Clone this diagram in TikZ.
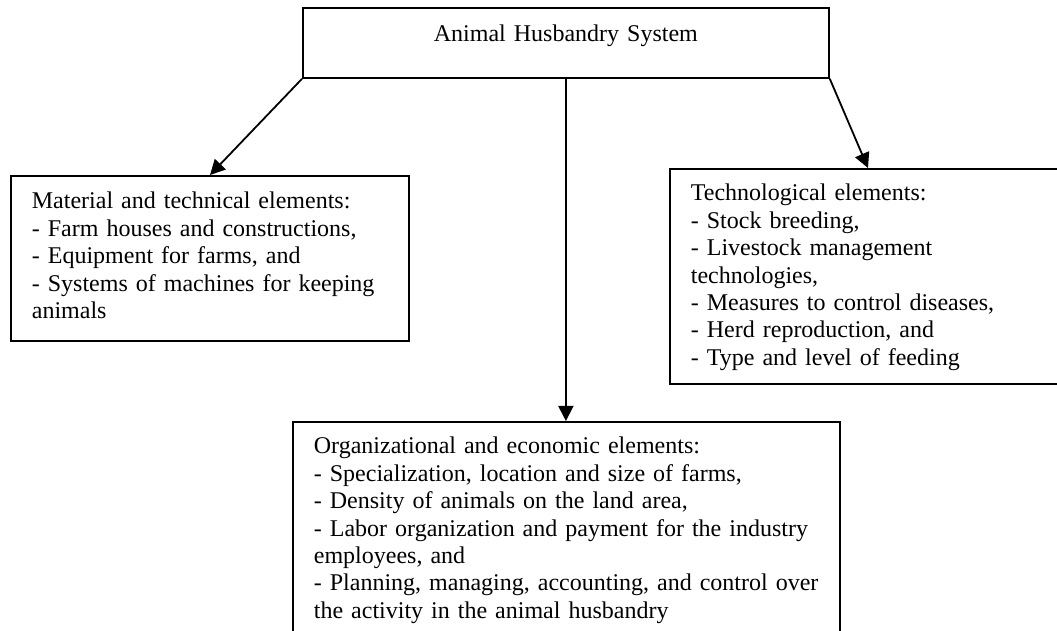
\documentclass[tikz,border=0pt]{standalone}
\usepackage{fontspec}
\setmainfont{Liberation Serif}
\usetikzlibrary{calc}
\usetikzlibrary{arrows.meta}

\tikzset{
  elembox/.style = {rectangle, draw = black, line width = 0.9pt, inner xsep = 10.5pt, inner ysep = 0pt, align = left, anchor = north west, font = \fontsize{12pt}{13.7pt}\selectfont},
  elemarrow/.style = {-{Triangle[length = 7.5pt, width = 7.5pt]}, line width = 0.9pt}
}

\begin{document}
\begin{tikzpicture}
\useasboundingbox (0,0) rectangle (528.5pt,-315.5pt);
\draw (151pt,-3.5pt) node[elembox, name = sys, align = center, inner xsep = 0pt, text width = 263pt, text height = 17pt, text depth = 18pt]{Animal Husbandry System};
\draw (5pt,-87.5pt) node[elembox, name = mat, text width = 178pt, text height = 16.5pt, text depth = 66pt]{Material and technical elements:\\- Farm houses and constructions,\\- Equipment for farms, and\\- Systems of machines for keeping\\animals};
\draw (334.5pt,-84pt) node[elembox, name = tec, text width = 180pt, text height = 16pt, text depth = 91.5pt]{Technological elements:\\- Stock breeding,\\- Livestock management\\technologies,\\- Measures to control diseases,\\- Herd reproduction, and\\- Type and level of feeding};
\draw (146pt,-210.5pt) node[elembox, name = org, text width = 252.5pt, text height = 16pt, text depth = 100pt]{Organizational and economic elements:\\- Specialization, location and size of farms,\\- Density of animals on the land area,\\- Labor organization and payment for the industry\\employees, and\\- Planning, managing, accounting, and control over\\the activity in the animal husbandry};
% arrows from the system to its elements
\draw[elemarrow] (sys.south west) -- ([xshift = 100pt]mat.north west);
\draw[elemarrow] (sys.south) -- (sys.south |- org.north);
\draw[elemarrow] (sys.south east) -- ([xshift = 99.5pt]tec.north west);
\end{tikzpicture}
\end{document}
